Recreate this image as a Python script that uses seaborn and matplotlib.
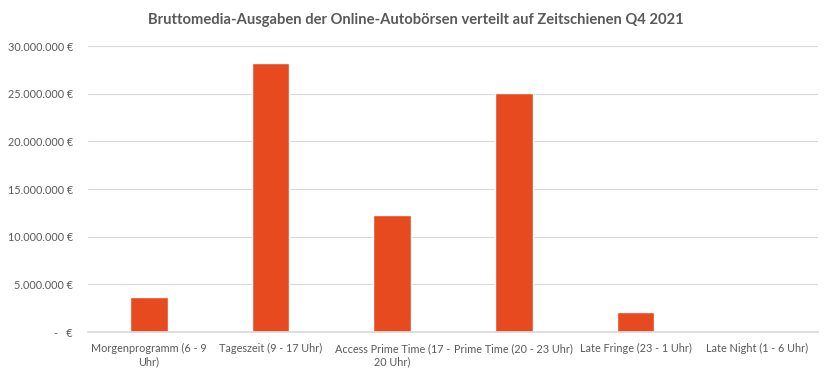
import matplotlib
matplotlib.use("Agg")
import matplotlib.pyplot as plt
import matplotlib.ticker as mticker
import seaborn as sns
import pandas as pd

categories = [
    "Morgenprogramm (6 - 9\nUhr)",
    "Tageszeit (9 - 17 Uhr)",
    "Access Prime Time (17 -\n20 Uhr)",
    "Prime Time (20 - 23 Uhr)",
    "Late Fringe (23 - 1 Uhr)",
    "Late Night (1 - 6 Uhr)",
]
ausgaben = [3700000, 28200000, 12300000, 25100000, 2100000, 0]

df = pd.DataFrame({"Zeitschiene": categories, "Ausgaben": ausgaben})

sns.set_theme(style="white")
plt.rcParams["font.family"] = ["Lato", "DejaVu Sans"]

fig = plt.figure(figsize=(8.32, 3.84), dpi=100)
ax = fig.add_axes([0.106, 0.135, 0.877, 0.745])

sns.barplot(data=df, x="Zeitschiene", y="Ausgaben", color="#E84A1F",
            width=0.31, saturation=1, ax=ax)

def euro(v, pos):
    if v == 0:
        return "-   €"
    return f"{int(v):,}".replace(",", ".") + " €"

ax.set_ylim(0, 30000000)
ax.yaxis.set_major_locator(mticker.MultipleLocator(5000000))
ax.yaxis.set_major_formatter(mticker.FuncFormatter(euro))
ax.yaxis.grid(True, color="#D9D9D9", linewidth=0.8)
ax.set_axisbelow(True)
for s in ["top", "right", "left"]:
    ax.spines[s].set_visible(False)
ax.spines["bottom"].set_color("#D9D9D9")
ax.tick_params(axis="both", length=0, colors="#595959", labelsize=7.8)
ax.tick_params(axis="y", pad=11)
ax.tick_params(axis="x", pad=8)
ax.set_xlabel("")
ax.set_ylabel("")

fig.suptitle("Bruttomedia-Ausgaben der Online-Autobörsen verteilt auf Zeitschienen Q4 2021",
             x=0.5, y=0.965, fontsize=10.6, fontweight="bold", color="#595959")

fig.savefig("out.png", dpi=100)
